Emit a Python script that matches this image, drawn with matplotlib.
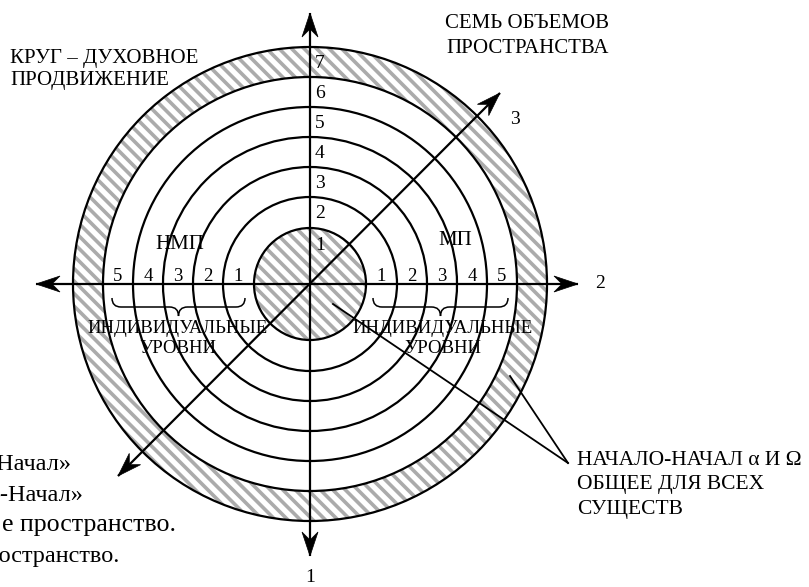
import numpy as np
import matplotlib
matplotlib.use('Agg')
import matplotlib.pyplot as plt
from matplotlib.patches import Circle, Annulus, Polygon, PathPatch
from matplotlib.path import Path
from matplotlib.collections import LineCollection

plt.rcParams['font.family'] = ['Liberation Serif', 'DejaVu Serif']

# ---------------- data ----------------
ring_radii = [56, 87, 117, 147, 177, 207, 237]          # seven volumes of space
volume_labels = ['1', '2', '3', '4', '5', '6', '7']
level_labels = ['1', '2', '3', '4', '5']
axis_names = ['1', '2', '3']
left_group = 'НМП'
right_group = 'МП'
group_caption = ['ИНДИВИДУАЛЬНЫЕ', 'УРОВНИ']
title_left = ['КРУГ – ДУХОВНОЕ', 'ПРОДВИЖЕНИЕ']
title_right = ['СЕМЬ ОБЪЕМОВ', 'ПРОСТРАНСТВА']
origin_note = ['НАЧАЛО-НАЧАЛ α И Ω', 'ОБЩЕЕ ДЛЯ ВСЕХ', 'СУЩЕСТВ']
side_note = ['«Начал»', 'о-Начал»', 'е пространство.', 'Пространство.']

# ---------------- figure ----------------
W, H = 809, 587
fig = plt.figure(figsize=(W / 100, H / 100), dpi=100)
ax = fig.add_axes([0, 0, 1, 1])
ax.set_xlim(0, W)
ax.set_ylim(H, 0)
ax.axis('off')

cx, cy = 310, 284
BLACK = 'black'
STRIPE = '#ababab'


def stripes_in(patch, period=12.5, lw=2.6):
    ax.add_patch(patch)
    cs = np.arange(-H - 20, W + 20, period)
    segs = [[(c, 0), (c + H, H)] for c in cs]
    lc = LineCollection(segs, colors=STRIPE, linewidths=lw, zorder=1)
    ax.add_collection(lc)
    lc.set_clip_path(patch)


inner = Circle((cx, cy), ring_radii[0], fc='white', ec='none', zorder=0)
stripes_in(inner)
outer = Annulus((cx, cy), ring_radii[-1], ring_radii[-1] - ring_radii[-2],
                fc='white', ec='none', zorder=0)
stripes_in(outer)

for r in ring_radii:
    ax.add_patch(Circle((cx, cy), r, fc='none', ec=BLACK, lw=1.6, zorder=3))


def stealth(tip, direction, L=24, Wd=8, N=16):
    d = np.asarray(direction, float)
    d /= np.hypot(*d)
    n = np.array([-d[1], d[0]])
    t = np.asarray(tip, float)
    pts = [t, t - L * d + Wd * n, t - N * d, t - L * d - Wd * n]
    ax.add_patch(Polygon(pts, closed=True, fc=BLACK, ec=BLACK, lw=0.5, zorder=5))


def double_arrow(p0, p1):
    p0 = np.asarray(p0, float)
    p1 = np.asarray(p1, float)
    ax.plot([p0[0], p1[0]], [p0[1], p1[1]], color=BLACK, lw=1.6, zorder=4,
            solid_capstyle='butt')
    stealth(p1, p1 - p0)
    stealth(p0, p0 - p1)


# axes 1 (vertical), 2 (horizontal), 3 (diagonal)
double_arrow((cx, 556), (cx, 13))
double_arrow((36, cy), (578, cy))
double_arrow((cx - 192, cy + 192), (cx + 190, cy - 191))

# pointer lines to origin note
ax.plot([333, 568], [304, 463], color=BLACK, lw=1.3, zorder=4)
ax.plot([510, 568], [376, 463], color=BLACK, lw=1.3, zorder=4)


def brace(x0, x1, yt=298, ym=307, yb=316, h=9):
    xm = (x0 + x1) / 2
    verts = [(x0, yt), (x0, ym), (x0 + h, ym),
             (xm - h, ym),
             (xm, ym), (xm, yb),
             (xm, ym), (xm + h, ym),
             (x1 - h, ym),
             (x1, ym), (x1, yt)]
    codes = [Path.MOVETO, Path.CURVE3, Path.CURVE3,
             Path.LINETO,
             Path.CURVE3, Path.CURVE3,
             Path.CURVE3, Path.CURVE3,
             Path.LINETO,
             Path.CURVE3, Path.CURVE3]
    ax.add_patch(PathPatch(Path(verts, codes), fc='none', ec=BLACK, lw=1.1, zorder=4))


brace(112, 245)
brace(373, 508)

# ---------------- texts ----------------
for lab, r in zip(volume_labels, ring_radii):
    ax.text(cx + 5, cy - (r - 17), lab, fontsize=14, ha='left', va='center', zorder=6)

for i, lab in enumerate(level_labels):
    rm = (ring_radii[i] + ring_radii[i + 1]) / 2
    ax.text(cx + rm, 281, lab, fontsize=13.5, ha='center', va='baseline', zorder=6)
    ax.text(cx - rm, 281, lab, fontsize=13.5, ha='center', va='baseline', zorder=6)

ax.text(180, 249, left_group, fontsize=15, ha='center', va='baseline', zorder=6)
ax.text(455, 245, right_group, fontsize=15, ha='center', va='baseline', zorder=6)

for xc in (178, 443):
    ax.text(xc, 333, group_caption[0], fontsize=13.5, ha='center', va='baseline', zorder=6)
    ax.text(xc, 353, group_caption[1], fontsize=13.5, ha='center', va='baseline', zorder=6)

ax.text(cx, 578, axis_names[0], fontsize=14, ha='center', va='center')
ax.text(600, 284, axis_names[1], fontsize=14, ha='center', va='center')
ax.text(515, 119, axis_names[2], fontsize=14, ha='center', va='center')

ax.text(10, 63, title_left[0], fontsize=15, ha='left', va='baseline')
ax.text(10, 85, title_left[1], fontsize=15, ha='left', va='baseline')
ax.text(609, 28, title_right[0], fontsize=15, ha='right', va='baseline')
ax.text(609, 53, title_right[1], fontsize=15, ha='right', va='baseline')

for k, s in enumerate(origin_note):
    ax.text(577, 465 + 24.5 * k, s, fontsize=15.5, ha='left', va='baseline')

side_right = [72, 83, 176, 120]
side_size = [17.5, 17.5, 18.6, 17.5]
for k, (s, xr, fs) in enumerate(zip(side_note, side_right, side_size)):
    ax.text(xr, 470 + 30.7 * k, s, fontsize=fs, ha='right', va='baseline')

fig.savefig('out.png', dpi=100)
